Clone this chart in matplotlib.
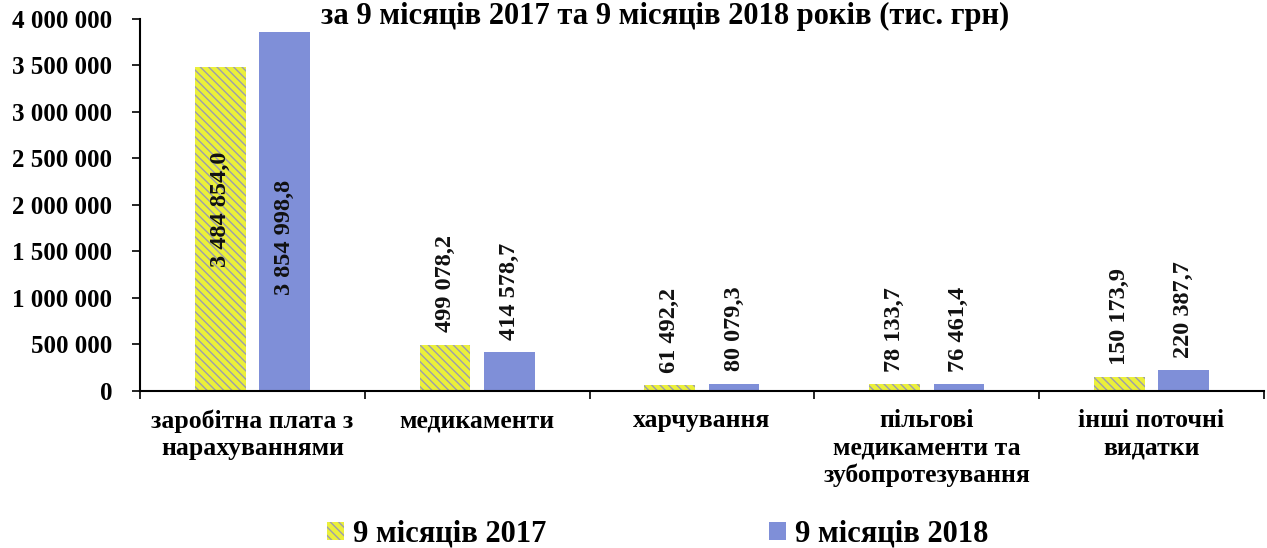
import numpy as np
import matplotlib
matplotlib.use("Agg")
import matplotlib.pyplot as plt
from matplotlib.patches import Patch

plt.rcParams['font.family'] = ['Liberation Serif', 'DejaVu Serif']
plt.rcParams['hatch.linewidth'] = 1.0

# expenditure items, thousand UAH
categories = ["заробітна плата з\nнарахуваннями", "медикаменти", "харчування",
              "пільгові\nмедикаменти та\nзубопротезування", "інші поточні\nвидатки"]
series_names = ["9 місяців 2017", "9 місяців 2018"]
v2017 = [3484854.0, 499078.2, 61492.2, 78133.7, 150173.9]
v2018 = [3854998.8, 414578.7, 80079.3, 76461.4, 220387.7]
yticks = [0, 500000, 1000000, 1500000, 2000000, 2500000, 3000000, 3500000, 4000000]

yellow = '#EBF03A'
hatch_col = '#9C9CAE'
blue = '#7F8FD8'


def fmt(v, dec=1):
    s = f"{v:,.{dec}f}".replace(",", " ").replace(".", ",")
    return s


fig = plt.figure(figsize=(12.67, 5.48), dpi=100)
ax = fig.add_axes([0.1105, 0.2865, 0.887, 0.679])

x = np.arange(len(categories))
w = 0.225
off = 0.143
b1 = ax.bar(x - off, v2017, w, color=yellow, edgecolor=hatch_col, linewidth=0, hatch='\\\\\\\\')
b2 = ax.bar(x + off, v2018, w, color=blue, linewidth=0)

# value labels: above short bars, inside the tall ones
for bars, vals, mid in ((b1, v2017, 1.95e6), (b2, v2018, 1.65e6)):
    for rect, v in zip(bars, vals):
        cx = rect.get_x() + rect.get_width() / 2
        if v > 1e6:
            ax.text(cx, mid, fmt(v), rotation=90, ha='center', va='center',
                    fontsize=17.5, fontweight='bold', color='#111111')
        else:
            ax.text(cx, v + 130000, fmt(v), rotation=90, ha='center', va='bottom',
                    fontsize=17.5, fontweight='bold', color='#111111')

ax.set_xlim(-0.5, len(categories) - 0.5)
ax.set_ylim(0, 4000000)
ax.set_yticks(yticks)
ax.set_yticklabels([fmt(t, 0) for t in yticks], fontsize=18, fontweight='bold')

# category separators as major ticks, names on minor ticks
ax.set_xticks(np.arange(len(categories) + 1) - 0.5)
ax.set_xticklabels([])
ax.set_xticks(x, minor=True)
ax.set_xticklabels(categories, minor=True, fontsize=18.5, fontweight='bold', linespacing=1.22)
ax.tick_params(axis='x', which='minor', length=0, pad=13)
ax.tick_params(axis='x', which='major', length=6, width=1.2, direction='out')
ax.tick_params(axis='y', length=6, width=1.2, pad=14)

for s in ('top', 'right'):
    ax.spines[s].set_visible(False)
ax.spines['left'].set_linewidth(1.5)
ax.spines['bottom'].set_linewidth(1.5)

fig.text(0.525, 0.997, "за 9 місяців 2017 та 9 місяців 2018 років (тис. грн)",
         ha='center', va='top', fontsize=22, fontweight='bold')

handles = [Patch(facecolor=yellow, edgecolor=hatch_col, linewidth=0, hatch='\\\\\\\\'),
           Patch(facecolor=blue, linewidth=0)]
fig.legend(handles, series_names, loc='lower center', bbox_to_anchor=(0.519, -0.052), ncol=2,
           frameon=False, prop={'size': 22, 'weight': 'bold'},
           handlelength=0.55, handleheight=0.55, handletextpad=0.3, columnspacing=7.3)

fig.savefig('out.png', dpi=100)
